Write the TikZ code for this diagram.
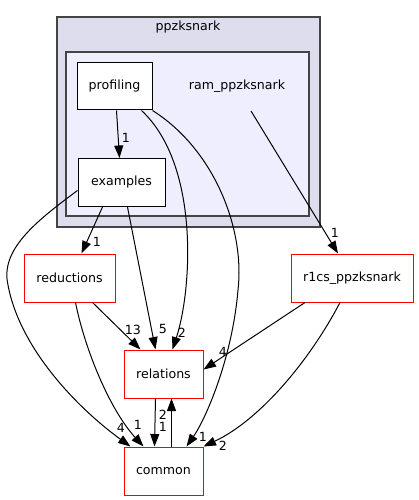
\documentclass[tikz,border=0pt]{standalone}
\usepackage{fontspec}
\setmainfont{DejaVu Sans}
\usepackage{xcolor}
\usetikzlibrary{arrows.meta}
\usetikzlibrary{positioning}
\definecolor{outerfill}{HTML}{DDDDEE}
\definecolor{innerfill}{HTML}{EEEEFF}
\definecolor{clusterline}{HTML}{444444}
\tikzset{
  dirbox/.style={draw=black, fill=white, line width=1pt, inner sep=0pt,
    minimum height=47pt, font=\fontsize{12.6}{15}\selectfont},
  extbox/.style={dirbox, draw=red},
  dep/.style={line width=1pt, -{Triangle[length=12.5pt,width=9pt]}},
  cnt/.style={font=\fontsize{12.6}{15}\selectfont, inner sep=0pt}
}

\begin{document}
\begin{tikzpicture}[x=1pt,y=-1pt]
  \useasboundingbox (0,0) rectangle (419,500);
  % clusters
  \filldraw[fill=outerfill, draw=clusterline, line width=1.2pt] (57,17) rectangle (320,227);
  \node[cnt] (ppzksnark) at (188,27) {ppzksnark};
  \filldraw[fill=innerfill, draw=clusterline, line width=1.2pt] (66,52) rectangle (309,216);
  \node[cnt] (ramlabel) at (237,86) {ram\_ppzksnark};
  \coordinate (ramout) at (251,111);

  % directories
  \node[dirbox, minimum width=75pt] (profiling) at (114.5,86.5) {profiling};
  \node[dirbox, minimum width=87pt, minimum height=48pt] (examples) at (121.5,182.5) {examples};
  \node[extbox, minimum width=91pt, minimum height=48pt] (reductions) at (69.5,278) {reductions};
  \node[extbox, minimum width=122pt, minimum height=48pt] (r1cs) at (352,278) {r1cs\_ppzksnark};
  \node[extbox, minimum width=79pt, minimum height=48pt] (relations) at (163.5,374) {relations};
  \node[extbox, minimum width=79pt, minimum height=48pt] (common) at (163.5,471) {common};

  % dependencies
  \draw[dep] (profiling.south) ++(2,0) -- ([xshift=-2pt]examples.north);
  \draw[dep] (ramout) -- ([xshift=-14pt]r1cs.north);
  \draw[dep] ([xshift=-19pt]examples.south) -- ([xshift=12pt]reductions.north);
  \draw[dep] ([xshift=6pt]examples.south) -- ([xshift=-8pt]relations.north);
  \draw[dep] ([yshift=-8pt]examples.west) .. controls (35,222) and (0,250) .. (8,285)
    .. controls (20,350) and (80,410) .. ([xshift=-33pt]common.north);
  \draw[dep] ([xshift=27pt]profiling.south) .. controls (200,165) and (192,290) .. ([xshift=9pt]relations.north);
  \draw[dep] (profiling.south east) .. controls (215,150) and (245,230) .. (238,290)
    .. controls (232,360) and (205,420) .. ([xshift=23pt]common.north);
  \draw[dep] ([xshift=23pt]reductions.south) -- ([xshift=-23pt]relations.north);
  \draw[dep] ([xshift=6pt]reductions.south) .. controls (85,350) and (110,410) .. ([xshift=-20pt]common.north);
  \draw[dep] ([xshift=-47pt]r1cs.south) -- ([yshift=-20pt]relations.north east);
  \draw[dep] ([xshift=-12pt]r1cs.south) .. controls (310,360) and (260,420) .. (common.north east);
  \draw[dep] ([xshift=-8pt]relations.south) -- ([xshift=-9pt]common.north);
  \draw[dep] ([xshift=8pt]common.north) -- ([xshift=8pt]relations.south);

  % counts
  \node[cnt] (c1) at (126,138) {1};
  \node[cnt] (c2) at (335,233) {1};
  \node[cnt] (c3) at (97,242) {1};
  \node[cnt] (c4) at (133,330) {13};
  \node[cnt] (c5) at (163,329) {5};
  \node[cnt] (c6) at (182,333) {2};
  \node[cnt] (c7) at (223,352) {4};
  \node[cnt] (c8) at (163,415) {2};
  \node[cnt] (c9) at (163,427) {1};
  \node[cnt] (c10) at (121,428) {4};
  \node[cnt] (c11) at (138,425) {1};
  \node[cnt] (c12) at (203,437) {1};
  \node[cnt] (c13) at (223,446) {2};
\end{tikzpicture}
\end{document}
